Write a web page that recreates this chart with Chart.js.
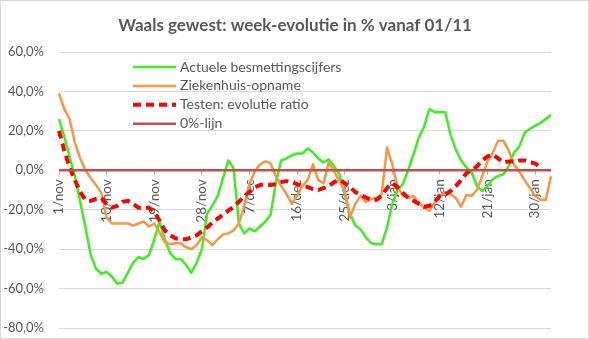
<!DOCTYPE html>
<html>
<head>
<meta charset="utf-8">
<script src="https://cdn.jsdelivr.net/npm/chart.js@4/dist/chart.umd.min.js"></script>
<style>
  html, body { margin: 0; padding: 0; background: #fff; }
</style>
</head>
<body>
<canvas id="chart" width="589" height="339"></canvas>
<script>
// daily categories, 1 nov -> 2 feb
const dates = [
  "1/nov","2/nov","3/nov","4/nov","5/nov","6/nov","7/nov","8/nov","9/nov","10/nov",
  "11/nov","12/nov","13/nov","14/nov","15/nov","16/nov","17/nov","18/nov","19/nov","20/nov",
  "21/nov","22/nov","23/nov","24/nov","25/nov","26/nov","27/nov","28/nov","29/nov","30/nov",
  "1/dec","2/dec","3/dec","4/dec","5/dec","6/dec","7/dec","8/dec","9/dec","10/dec",
  "11/dec","12/dec","13/dec","14/dec","15/dec","16/dec","17/dec","18/dec","19/dec","20/dec",
  "21/dec","22/dec","23/dec","24/dec","25/dec","26/dec","27/dec","28/dec","29/dec","30/dec",
  "31/dec","1/jan","2/jan","3/jan","4/jan","5/jan","6/jan","7/jan","8/jan","9/jan",
  "10/jan","11/jan","12/jan","13/jan","14/jan","15/jan","16/jan","17/jan","18/jan","19/jan",
  "20/jan","21/jan","22/jan","23/jan","24/jan","25/jan","26/jan","27/jan","28/jan","29/jan",
  "30/jan","31/jan","1/feb","2/feb"
];

const besmettingen = [
  26, 17, 7, -3, -16, -29, -43, -50, -52.5, -51.5,
  -54, -57.5, -57, -52, -47, -44, -45, -43, -35, -26,
  -35, -42, -45, -45, -48, -52, -47, -40, -22, -18,
  -13, -4, 5, 1, -27, -32, -29.5, -31, -28.5, -26,
  -22.5, -6, 5, 6, 7.5, 8.5, 8.5, 11, 9, 6,
  4, 5.5, 2, -2, -12, -22, -28, -30, -34, -37,
  -37.5, -37.5, -29, -17, -10, -7, 0, 8, 16.5, 22,
  31, 29.5, 29.5, 29.5, 18, 10.5, 5, 1.5, -1, -8,
  -10.5, -8, -4.5, -3, -2, 2, 9, 12, 19, 21,
  22.5, 24, 26, 28
];

const ziekenhuis = [
  39, 31, 26, 14, 6, 0, -4, -7.5, -11.5, -24,
  -27, -27, -27, -27, -28, -27, -26, -28.5, -27, -31.5,
  -36.5, -37.5, -37, -37, -39, -40, -38, -34, -35.5, -38,
  -35, -32.5, -32, -30.5, -27, -18, -7, -0.5, 3, 4.5,
  3.5, -3, -8, -12, -17, -13, -8, -5, 3, -5,
  -6.5, 4, -0.5, -5.5, -10, -24, -17, -13, -16, -14.5,
  -14, -12, 11.5, 3, -8.5, -13, -14, -13, -16.5, -19,
  -20.5, -16.5, -13, -11, -12, -14, -18.5, -12.5, -13, -10,
  -3, 4.5, 9, 15, 15, 10, 3, -0.5, -5, -9,
  -13, -15, -15, -3
];

const testenRatio = [
  20, 10, 1.5, -5, -11, -15, -15.5, -14.5, -14, -17,
  -19, -18, -16, -15.5, -17, -19, -19, -19, -21, -25.5,
  -30.5, -33, -34.5, -35, -35, -34, -33, -31, -29, -26.5,
  -24.5, -22.5, -20.5, -18.5, -16, -13, -11, -8.5, -7.5, -7,
  -7.5, -7, -6, -5.5, -6, -7, -8, -8.5, -9.5, -10,
  -9, -8, -6, -4.8, -6.5, -8.5, -11, -12.5, -13.8, -15,
  -15, -13, -9, -6.5, -8.5, -11.5, -14, -15.5, -17, -18.5,
  -18, -16, -13, -12.5, -10.5, -8, -5, -1.5, 0, 2,
  5, 7, 8, 6, 4, 4.5, 4.5, 5, 5, 4,
  3.5, 1.5, null, null
];

const nulLijn = [
  0, 0, 0, 0, 0, 0, 0, 0, 0, 0,
  0, 0, 0, 0, 0, 0, 0, 0, 0, 0,
  0, 0, 0, 0, 0, 0, 0, 0, 0, 0,
  0, 0, 0, 0, 0, 0, 0, 0, 0, 0,
  0, 0, 0, 0, 0, 0, 0, 0, 0, 0,
  0, 0, 0, 0, 0, 0, 0, 0, 0, 0,
  0, 0, 0, 0, 0, 0, 0, 0, 0, 0,
  0, 0, 0, 0, 0, 0, 0, 0, 0, 0,
  0, 0, 0, 0, 0, 0, 0, 0, 0, 0,
  0, 0, 0, 0
];

const titleText = "Waals gewest: week-evolutie in % vanaf 01/11";
const yMin = -80, yMax = 60, yStep = 20;
const labelEvery = 9; // one date label every 9 days

const fontFamily = 'Lato, "Open Sans", sans-serif';
const textGrey = "#595959";
Chart.defaults.font.family = fontFamily;
Chart.defaults.color = textGrey;

// white background + thin frame like the Excel chart box
const framePlugin = {
  id: "frame",
  beforeDraw(chart) {
    const ctx = chart.ctx;
    ctx.save();
    ctx.fillStyle = "#fff";
    ctx.fillRect(0, 0, chart.width, chart.height);
    ctx.strokeStyle = "#d9d9d9";
    ctx.lineWidth = 1;
    ctx.strokeRect(0.5, 0.5, chart.width - 1, chart.height - 1);
    ctx.restore();
  }
};

// title is not centred on the canvas in the original, so draw it by hand
const titlePlugin = {
  id: "excelTitle",
  afterDraw(chart) {
    const ctx = chart.ctx;
    ctx.save();
    ctx.font = "bold 17px " + fontFamily;
    ctx.fillStyle = textGrey;
    ctx.textAlign = "center";
    ctx.textBaseline = "alphabetic";
    ctx.fillText(titleText, 295, 31);
    ctx.restore();
  }
};

// legend sits inside the plot area, top left
const legendPlugin = {
  id: "insideLegend",
  afterDraw(chart) {
    const ctx = chart.ctx;
    ctx.save();
    ctx.font = "14px " + fontFamily;
    ctx.textBaseline = "middle";
    ctx.textAlign = "left";
    chart.data.datasets.forEach((ds, i) => {
      const y = 67 + i * 18.9;
      ctx.strokeStyle = ds.borderColor;
      ctx.lineWidth = ds.borderWidth;
      ctx.setLineDash(ds.borderDash || []);
      ctx.beginPath();
      ctx.moveTo(133, y);
      ctx.lineTo(176, y);
      ctx.stroke();
      ctx.setLineDash([]);
      ctx.fillStyle = textGrey;
      ctx.fillText(ds.label, 180, y);
    });
    ctx.restore();
  }
};

const chart = new Chart(document.getElementById("chart"), {
  type: "line",
  data: {
    labels: dates,
    datasets: [
      {
        label: "Actuele besmettingscijfers",
        data: besmettingen,
        borderColor: "#3cf01e",
        borderWidth: 2.5,
        order: 4
      },
      {
        label: "Ziekenhuis-opname",
        data: ziekenhuis,
        borderColor: "#f79646",
        borderWidth: 2.5,
        order: 3
      },
      {
        label: "Testen: evolutie ratio",
        data: testenRatio,
        borderColor: "#ff0000",
        borderWidth: 4,
        borderDash: [8, 5],
        order: 2
      },
      {
        label: "0%-lijn",
        data: nulLijn,
        borderColor: "#c0504d",
        borderWidth: 2.5,
        order: 1
      }
    ]
  },
  options: {
    responsive: false,
    animation: false,
    layout: { padding: { top: 52, right: 38, bottom: 11, left: 0 } },
    elements: {
      point: { radius: 0 },
      line: { tension: 0, borderJoinStyle: "round", fill: false }
    },
    plugins: {
      legend: { display: false },
      title: { display: false },
      tooltip: { enabled: false }
    },
    scales: {
      x: {
        type: "category",
        position: { y: 0 },
        offset: false,
        afterBuildTicks: (scale) => {
          scale.ticks = scale.ticks.filter((t) => t.value % labelEvery === 0);
        },
        grid: {
          drawOnChartArea: false,
          drawTicks: true,
          tickLength: 5,
          tickColor: "#bfbfbf",
          offset: false
        },
        border: { display: false },
        ticks: {
          autoSkip: false,
          minRotation: 90,
          maxRotation: 90,
          padding: 4,
          color: textGrey,
          font: { size: 13.5 }
        }
      },
      y: {
        min: yMin,
        max: yMax,
        afterFit: (scale) => {
          // fixed axis width; drop the extra top/bottom room the tick padding asks for
          scale.width = 59;
          scale.paddingTop = 0;
          scale.paddingBottom = 0;
        },
        grid: { color: "#d9d9d9", lineWidth: 1, drawTicks: false },
        border: { display: false },
        ticks: {
          stepSize: yStep,
          padding: 15,
          color: textGrey,
          font: { size: 13 },
          callback: (v) => v.toFixed(1).replace(".", ",") + "%"
        }
      }
    }
  },
  plugins: [framePlugin, titlePlugin, legendPlugin]
});
</script>
</body>
</html>
